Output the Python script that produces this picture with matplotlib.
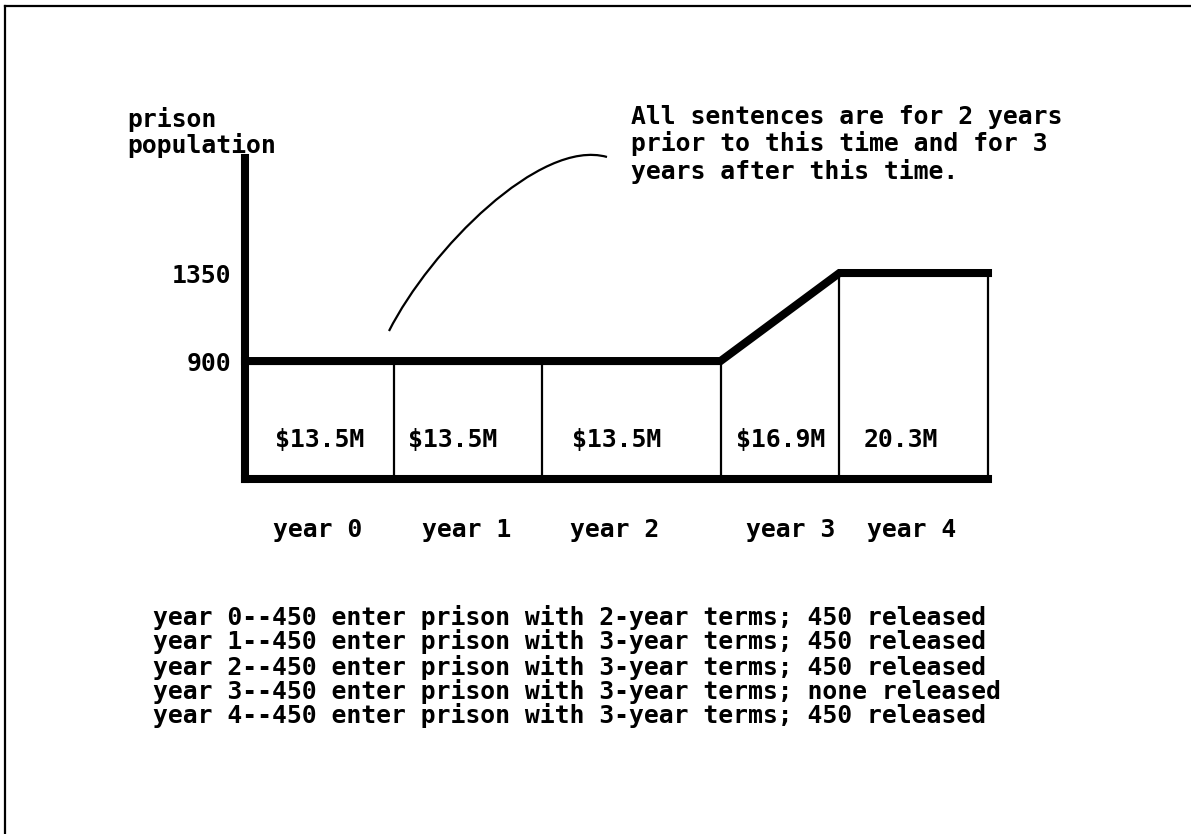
import matplotlib.pyplot as plt
from matplotlib.path import Path
from matplotlib.patches import PathPatch

# chart data
years = ['year 0', 'year 1', 'year 2', 'year 3', 'year 4']
costs = ['$13.5M', '$13.5M', '$13.5M', '$16.9M', '20.3M']
year_edges = [0, 1, 2, 3.2, 4, 5]
population = [900, 900, 900, 900, 1350, 1350]
y_ticks = [900, 1350]
callout = ['All sentences are for 2 years',
           'prior to this time and for 3',
           'years after this time.']
notes = ['year 0--450 enter prison with 2-year terms; 450 released',
         'year 1--450 enter prison with 3-year terms; 450 released',
         'year 2--450 enter prison with 3-year terms; 450 released',
         'year 3--450 enter prison with 3-year terms; none released',
         'year 4--450 enter prison with 3-year terms; 450 released']

W, H = 1191, 834
FONT = dict(family='DejaVu Sans Mono', weight='bold', size=17.8, color='black')


def px(x, y):
    # pixel position (from top-left) -> figure fraction
    return x / W, 1 - y / H


fig = plt.figure(figsize=(W / 100, H / 100), dpi=100)
fig.patch.set_facecolor('white')

# scanned page border (left and top)
fig.add_artist(plt.Line2D([5 / W, 5 / W], [0, 1 - 6 / H], color='black', lw=1.6))
fig.add_artist(plt.Line2D([5 / W, 1], [1 - 6 / H, 1 - 6 / H], color='black', lw=1.6))

y_base, y_top = 297, 1938
ax = fig.add_axes([245 / W, 1 - 479 / H, 743 / W, 321 / H])
ax.set_xlim(year_edges[0], year_edges[-1])
ax.set_ylim(y_base, y_top)
ax.set_facecolor('none')
for s in ['top', 'right']:
    ax.spines[s].set_visible(False)
for s in ['left', 'bottom']:
    ax.spines[s].set_linewidth(5.8)
    ax.spines[s].set_capstyle('projecting')
ax.set_xticks([])
ax.set_yticks(y_ticks)
ax.set_yticklabels([str(v) for v in y_ticks], fontdict=FONT)
ax.tick_params(axis='y', length=0, pad=10)

# population profile and year dividers
ax.plot(year_edges, population, color='black', lw=5.8,
        solid_joinstyle='miter', solid_capstyle='projecting', clip_on=False)
ax.vlines(year_edges[1:], y_base, population[1:], color='black', lw=1.6, clip_on=False)

# labels inside bars and under the axis
cost_left = [275, 408, 572, 736, 864]
year_left = [273, 422, 570, 746, 867]
for c, x in zip(costs, cost_left):
    fig.text(*px(x, 440), c, ha='left', va='center', **FONT)
for yl, x in zip(years, year_left):
    fig.text(*px(x, 530), yl, ha='left', va='center', **FONT)

# axis title
fig.text(*px(127, 119), 'prison', ha='left', va='center', **FONT)
fig.text(*px(127, 146), 'population', ha='left', va='center', **FONT)

# callout text and hand-drawn curve
for i, line in enumerate(callout):
    fig.text(*px(631, 117 + 27 * i), line, ha='left', va='center', **FONT)

verts = [px(389, 331), px(430, 250), px(540, 138), px(607, 157)]
curve = Path(verts, [Path.MOVETO, Path.CURVE4, Path.CURVE4, Path.CURVE4])
fig.add_artist(PathPatch(curve, facecolor='none', edgecolor='black', lw=1.6,
                         transform=fig.transFigure))

# notes below the chart
note_y = [617, 642, 668, 692, 716]
for line, y in zip(notes, note_y):
    fig.text(*px(153, y), line, ha='left', va='center', **FONT)

fig.savefig('out.png', dpi=100, facecolor='white')
